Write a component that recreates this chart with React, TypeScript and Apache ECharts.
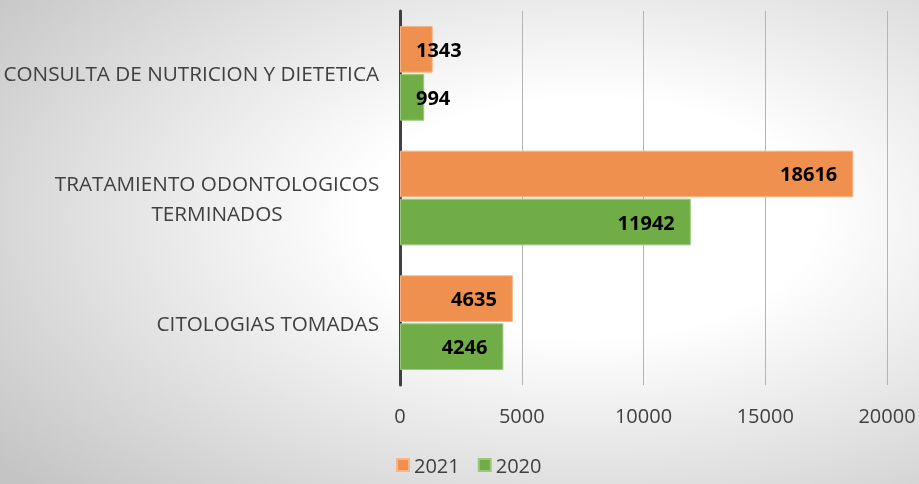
import React, { useEffect, useRef } from "react";
import * as echarts from "echarts";

const categories = [
  "CONSULTA DE NUTRICION Y DIETETICA",
  "TRATAMIENTO ODONTOLOGICOS\nTERMINADOS",
  "CITOLOGIAS TOMADAS",
];
const seriesNames = ["2021", "2020"];
const values2021 = [1343, 18616, 4635];
const values2020 = [994, 11942, 4246];
const xTicks = { min: 0, max: 20000, interval: 5000 };

const FONT = "'Open Sans', sans-serif";
const TXT = "#404040";

function makeData(vals: number[]) {
  return vals.map((v) => ({
    value: v,
    label: v < 2500 ? { position: "insideLeft" } : { position: "insideRight" },
  }));
}

export default function App() {
  const ref = useRef<HTMLDivElement>(null);
  useEffect(() => {
    if (!ref.current) return;
    const chart = echarts.init(ref.current, null, { renderer: "svg" });
    const labelCommon = {
      show: true,
      distance: 16,
      color: "#000",
      fontFamily: FONT,
      fontWeight: "bold",
      fontSize: 20,
    };
    chart.setOption({
      animation: false,
      graphic: [
        {
          type: "rect",
          z: -10,
          silent: true,
          shape: { x: 0, y: 0, width: 919, height: 484 },
          style: {
            fill: {
              type: "radial",
              x: 0.64,
              y: 0.45,
              r: 0.82,
              colorStops: [
                { offset: 0, color: "#ffffff" },
                { offset: 0.3, color: "#ffffff" },
                { offset: 1, color: "#c4c4c4" },
              ],
            },
          },
        },
      ],
      grid: {
        left: 400,
        right: 32,
        top: 11,
        bottom: 99,
        containLabel: false,
        outerBoundsMode: "none",
      },
      legend: {
        bottom: 4,
        left: 391,
        itemWidth: 12,
        itemHeight: 12,
        itemGap: 18,
        icon: "rect",
        textStyle: { color: TXT, fontFamily: FONT, fontSize: 20 },
        data: seriesNames,
      },
      xAxis: {
        type: "value",
        min: xTicks.min,
        max: xTicks.max,
        interval: xTicks.interval,
        axisLine: { show: false },
        axisTick: { show: false },
        splitLine: { show: true, lineStyle: { color: "#b4b4b4", width: 1 } },
        axisLabel: {
          color: TXT,
          fontFamily: FONT,
          fontSize: 20,
          margin: 20,
          formatter: (v: number) => String(v),
        },
      },
      yAxis: {
        type: "category",
        inverse: true,
        data: categories,
        axisLine: { show: true, lineStyle: { color: "#404040", width: 3 } },
        axisTick: { show: false },
        axisLabel: {
          color: TXT,
          fontFamily: FONT,
          fontSize: 20.7,
          margin: 21,
          lineHeight: 30,
          formatter: (v: string) =>
            v.indexOf("\n") >= 0
              ? v
                  .split("\n")
                  .map((s) => "{c|" + s + "}")
                  .join("\n")
              : v,
          rich: {
            c: {
              width: 324,
              align: "center",
              color: TXT,
              fontFamily: FONT,
              fontSize: 20.7,
              lineHeight: 30,
            },
          },
        },
      },
      series: [
        {
          name: seriesNames[0],
          type: "bar",
          data: makeData(values2021),
          itemStyle: { color: "#F0904F", borderColor: "#F6B688", borderWidth: 1 },
          barGap: "3%",
          barCategoryGap: "24%",
          label: labelCommon,
        },
        {
          name: seriesNames[1],
          type: "bar",
          data: makeData(values2020),
          itemStyle: { color: "#70AD47", borderColor: "#9CC87E", borderWidth: 1 },
          barGap: "3%",
          barCategoryGap: "24%",
          label: labelCommon,
        },
      ],
    });
    return () => chart.dispose();
  }, []);
  return (
    <div
      ref={ref}
      style={{ position: "fixed", left: 0, top: 0, width: 919, height: 484 }}
    />
  );
}
